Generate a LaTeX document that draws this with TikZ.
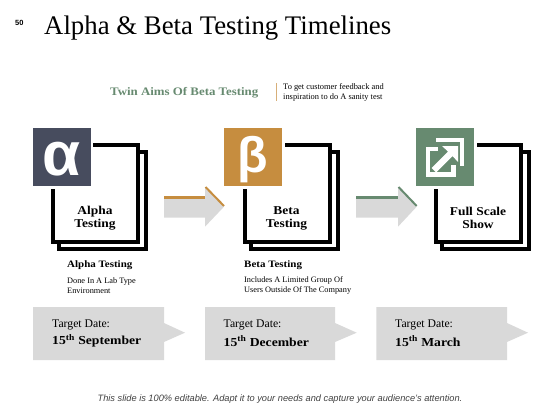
\documentclass[tikz,border=0pt]{standalone}
\usepackage{fontspec}
\setmainfont[BoldFeatures={FakeStretch=1.12}]{Liberation Serif}
\setsansfont{Liberation Sans}
\usepackage{xcolor}
\usetikzlibrary{positioning}
\definecolor{alphaSlate}{HTML}{474C5E}
\definecolor{betaOchre}{HTML}{C68D3F}
\definecolor{showGreen}{HTML}{678A70}
\definecolor{softGrey}{HTML}{D9D9D9}
\tikzset{
  iconbox/.style={minimum width=58pt, minimum height=58pt, inner sep=0pt},
  icontext/.style={inner sep=0pt, text=white, font=\sffamily\bfseries\fontsize{#1}{#1}\selectfont},
  framefront/.style={draw=black, line width=4pt, miter limit=10},
  frameback/.style={draw=black, line width=3.2pt},
  boxtitle/.style={align=center, font=\bfseries\fontsize{12}{12.8}\selectfont, inner sep=0pt},
  subhead/.style={anchor=west, inner sep=0pt, font=\bfseries\fontsize{9.8}{11}\selectfont},
  subtext/.style={anchor=west, align=left, inner sep=0pt, font=\fontsize{8.3}{9.4}\selectfont},
  datetext/.style={anchor=west, align=left, inner sep=0pt, font=\fontsize{11.7}{16}\selectfont},
  datelabel/.style={anchor=west, inner sep=0pt, font=\bfseries\fontsize{12.2}{16}\selectfont}
}
\begin{document}
\begin{tikzpicture}[x=1pt, y=-1pt]
  \useasboundingbox (0,0) rectangle (560,420);
  \node[anchor=west, inner sep=0pt, font=\sffamily\bfseries\fontsize{7.5}{8}\selectfont] (pagenum) at (15,23) {50};
  \node[anchor=west, inner sep=0pt, font=\fontsize{26.8}{28}\selectfont] (title) at (44,28.5) {Alpha \& Beta Testing Timelines};
  \node[anchor=west, inner sep=0pt, text=showGreen, font=\bfseries\fontsize{11.5}{13}\selectfont] (aims) at (110,92.5) {Twin Aims Of Beta Testing};
  \draw[betaOchre!70, line width=0.6pt] (276,83) -- (276,101);
  \node[anchor=west, align=left, inner sep=0pt, font=\fontsize{8.4}{10}\selectfont] (aimstext) at (283,92) {To  get customer feedback and\\inspiration to do A sanity test};

  \draw[frameback] (140,152) -- (146,152) -- (146,249) -- (59,249) -- (59,244);
  \draw[framefront] (93,145) -- (138,145) -- (138,242) -- (53,242) -- (53,189);
  \draw[frameback] (332,152) -- (338,152) -- (338,249) -- (251,249) -- (251,244);
  \draw[framefront] (285,145) -- (330,145) -- (330,242) -- (245,242) -- (245,189);
  \draw[frameback] (523,152) -- (529,152) -- (529,249) -- (442,249) -- (442,244);
  \draw[framefront] (477,145) -- (521,145) -- (521,242) -- (436,242) -- (436,189);

  \node[iconbox, fill=alphaSlate] (alphabox) at (61.7,157) {};
  \node[icontext=62] (alphaicon) at (61.7,159) {α};
  \node[iconbox, fill=betaOchre] (betabox) at (253,157) {};
  \node[icontext=50] (betaicon) at (253,160) {β};
  \node[iconbox, fill=showGreen] (showbox) at (445,157) {};
  \draw[white, line width=4.6pt] (436,140) -- (462,140) -- (462,165.7);
  \draw[white, line width=4.6pt] (438,149) -- (428,149) -- (428,174.4) -- (453.4,174.4) -- (453.4,165);
  \fill[white] (431.5,168) -- (448,151.5) -- (442,146) -- (458,146) -- (458,162) -- (452.5,156) -- (436,172.5) -- cycle;

  \node[boxtitle] (alphatitle) at (95,218) {Alpha\\Testing};
  \node[boxtitle] (betatitle) at (286.5,218) {Beta\\Testing};
  \node[boxtitle] (showtitle) at (478,218) {Full Scale\\Show};

  \fill[softGrey] (164,196) -- (205,196) -- (205,186.7) -- (224,206.7) -- (205,226.7) -- (205,217.7) -- (164,217.7) -- cycle;
  \draw[betaOchre, line width=3pt] (164,197) -- (205,197);
  \draw[betaOchre, line width=2pt] (205.5,187) -- (224,206);
  \fill[softGrey] (356,196) -- (398,196) -- (398,186.7) -- (416.7,206.7) -- (398,226.7) -- (398,217.7) -- (356,217.7) -- cycle;
  \draw[showGreen, line width=3pt] (356,197) -- (398,197);
  \draw[showGreen, line width=2pt] (398.5,187) -- (416.7,206);

  \node[subhead] (alphahead) at (67,265) {Alpha Testing};
  \node[subtext] (alphatext) at (67,285.5) {Done In A Lab Type\\Environment};
  \node[subhead] (betahead) at (244,265.5) {Beta Testing};
  \node[subtext] (betatext) at (244,285.5) {Includes A Limited Group Of\\Users Outside Of The Company};

  \fill[softGrey] (33,307) -- (164,307) -- (164,323) -- (185,332.7) -- (164,342) -- (164,360) -- (33,360) -- cycle;
  \fill[softGrey] (205,307) -- (335,307) -- (335,323) -- (356.7,332.7) -- (335,342) -- (335,360) -- (205,360) -- cycle;
  \fill[softGrey] (376.3,307) -- (507,307) -- (507,323) -- (528,332.7) -- (507,342) -- (507,360) -- (376.3,360) -- cycle;
  \node[datetext] (alphatarget) at (52,325) {Target Date:};
  \node[datelabel] (alphadate) at (52,341) {15\textsuperscript{th} September};
  \node[datetext] (betatarget) at (223.5,325) {Target Date:};
  \node[datelabel] (betadate) at (223.5,341) {15\textsuperscript{th} December};
  \node[datetext] (showtarget) at (395,325) {Target Date:};
  \node[datelabel] (showdate) at (395,341) {15\textsuperscript{th} March};

  \node[inner sep=0pt, text=black!75, font=\sffamily\itshape\fontsize{9.25}{11}\selectfont] (footer) at (280,399.5) {This slide is 100\% editable. Adapt it to your needs and capture your audience's attention.};
\end{tikzpicture}
\end{document}
